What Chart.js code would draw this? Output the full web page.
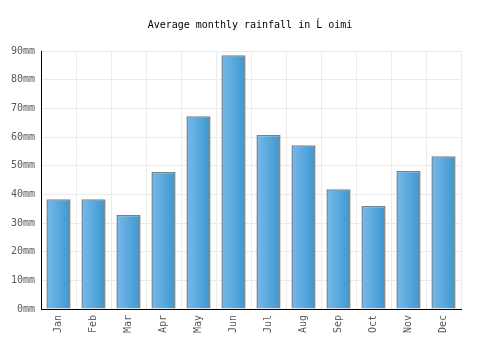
<!DOCTYPE html>
<html>
<head>
<meta charset="utf-8">
<script src="https://cdn.jsdelivr.net/npm/chart.js@4"></script>
<style>
  body { margin: 0; background: #fff; }
</style>
</head>
<body>
<canvas id="myChart" width="500" height="350"></canvas>
<script>
const months = ['Jan', 'Feb', 'Mar', 'Apr', 'May', 'Jun', 'Jul', 'Aug', 'Sep', 'Oct', 'Nov', 'Dec'];
const rainfall = [38.3, 38.3, 32.8, 47.8, 67.2, 88.5, 60.7, 57.1, 41.8, 35.9, 48.1, 53.3];
const titleText = 'Average monthly rainfall in Ĺ oimi';
const barPct = 0.69;

// each bar gets its own left-to-right gradient
function barFill(context) {
    const chart = context.chart;
    const xs = chart.scales.x;
    if (!xs || context.dataIndex === undefined) return '#5aa8dd';
    const cx = xs.getPixelForValue(context.dataIndex);
    const w = (xs.width / months.length) * barPct;
    if (!isFinite(cx) || !isFinite(w) || w <= 0) return '#5aa8dd';
    const g = chart.ctx.createLinearGradient(cx - w / 2, 0, cx + w / 2, 0);
    g.addColorStop(0, '#7ab8ea');
    g.addColorStop(1, '#3a98cf');
    return g;
}

const ctx = document.getElementById('myChart');
new Chart(ctx, {
    type: 'bar',
    data: {
        labels: months,
        datasets: [{
            label: 'Rainfall',
            data: rainfall,
            backgroundColor: barFill,
            borderColor: '#808080',
            borderWidth: 1.5,
            barPercentage: barPct,
            categoryPercentage: 1
        }]
    },
    options: {
        responsive: false,
        animation: false,
        layout: { padding: 0 },
        plugins: {
            legend: { display: false },
            tooltip: { enabled: false },
            title: {
                display: true,
                text: titleText,
                color: '#000',
                font: { family: 'DejaVu Sans Mono', size: 10, weight: 'normal' },
                padding: { top: 19, bottom: 20 }
            }
        },
        scales: {
            x: {
                offset: true,
                grid: { color: '#ebebeb', offset: true, drawTicks: false },
                border: { color: '#000', width: 1 },
                ticks: {
                    color: '#5a5a5a',
                    font: { family: 'DejaVu Sans Mono', size: 10 },
                    minRotation: 90, maxRotation: 90,
                    padding: 6
                },
                afterFit: function (s) { s.height = 41; }
            },
            y: {
                min: 0, max: 90,
                grid: { color: '#ebebeb', drawTicks: false },
                border: { color: '#000', width: 1 },
                ticks: {
                    stepSize: 10,
                    color: '#5a5a5a',
                    font: { family: 'DejaVu Sans Mono', size: 10 },
                    padding: 6,
                    callback: function (v) { return v + 'mm'; }
                },
                afterFit: function (s) { s.width = 41; }
            },
            // empty right axis, only keeps the right margin
            yRight: {
                position: 'right',
                min: 0, max: 90,
                grid: { display: false },
                border: { display: false },
                ticks: { display: false },
                afterFit: function (s) { s.width = 39; }
            }
        }
    }
});
</script>
</body>
</html>
